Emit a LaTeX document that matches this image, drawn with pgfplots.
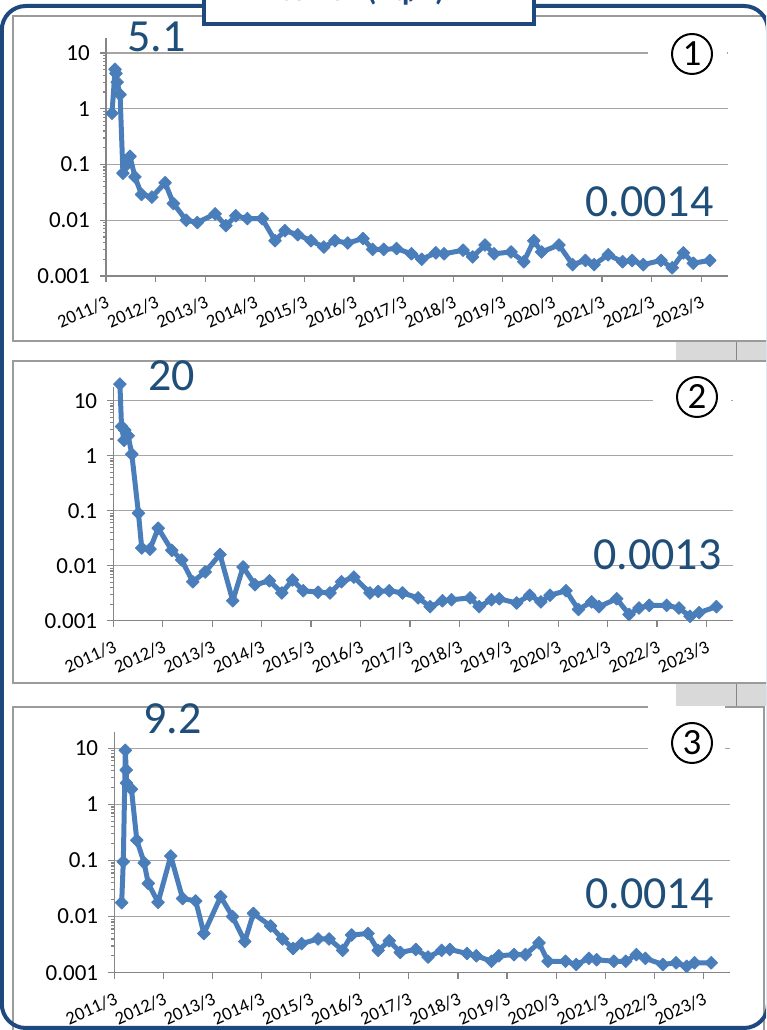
\documentclass[border=0pt]{standalone}
\usepackage{fontspec}
\setmainfont{Carlito}
\usepackage{pgfplots}
\pgfplotsset{compat=1.18}
\definecolor{frameblue}{RGB}{31,73,125}
\definecolor{lblblue}{RGB}{31,78,121}
\definecolor{lineblue}{RGB}{74,126,187}
\definecolor{gridgray}{RGB}{165,165,165}
\definecolor{axgray}{RGB}{134,134,134}
\definecolor{panelgray}{RGB}{155,155,155}
\definecolor{sheetgray}{RGB}{217,217,217}

\begin{document}
\begin{tikzpicture}
\path[use as bounding box] (0pt,0pt) rectangle (766pt,1030pt);
\clip (0pt,0pt) rectangle (766pt,1030pt);
\fill[white] (0pt,0pt) rectangle (766pt,1030pt);

% spreadsheet patches between panels
\fill[sheetgray] (676pt,688pt) rectangle (770pt,670pt);
\draw[axgray, line width=1pt] (736pt,688pt) -- (736pt,670pt);
\fill[sheetgray] (676pt,346pt) rectangle (770pt,324pt);
\draw[axgray, line width=1pt] (736pt,346pt) -- (736pt,324pt);

% panel borders
\draw[panelgray, line width=1.5pt] (13pt,1014pt) rectangle (772pt,689pt);
\draw[panelgray, line width=1.5pt] (13pt,669pt) rectangle (772pt,347pt);
\draw[panelgray, line width=1.5pt] (13pt,323pt) rectangle (764pt,-10pt);

% ---------- panel 1 ----------
\begin{semilogyaxis}[at={(106pt,754pt)}, anchor=south west, width=622pt, height=238pt, ymax=18.6,
    scale only axis, clip=false,
    xmin=0, xmax=150.5, ymin=0.001,
    axis x line*=bottom, axis y line*=left,
    axis line style={axgray, line width=1.2pt},
    xtick={0,12,24,36,48,60,72,84,96,108,120,132,144},
    xticklabels={2011/3,2012/3,2013/3,2014/3,2015/3,2016/3,2017/3,2018/3,2019/3,2020/3,2021/3,2022/3,2023/3},
    ytick={0.001,0.01,0.1,1,10},
    yticklabels={0.001,0.01,0.1,1,10},
    ymajorgrids, major grid style={gridgray, line width=1.2pt},
    tick align=outside, major tick length=6pt,
    tick style={axgray, line width=1.2pt},
    yticklabel style={font=\fontsize{23}{23}\selectfont, anchor=east, inner sep=0pt, xshift=-10pt},
    xticklabel style={font=\fontsize{18.5}{18.5}\selectfont, anchor=east, inner sep=0pt, yshift=-19pt, xshift=2pt, rotate=24}]
\addplot[lineblue, line width=5pt, line join=round, mark=square*, mark size=4.5pt, mark options={rotate=45, solid, fill=lineblue, draw=lineblue, line width=0.8pt}] coordinates {(1.45,0.83) (2.2,5.1) (2.4,4.3) (2.7,3.0) (3.4,1.8) (4.1,0.07) (5.0,0.10) (5.8,0.14) (7.0,0.06) (8.6,0.029) (11.1,0.026) (14.3,0.047) (16.3,0.020) (19.4,0.010) (22.1,0.0091) (26.4,0.013) (29.0,0.0080) (31.4,0.012) (34.2,0.0107) (37.8,0.0107) (40.9,0.0043) (43.3,0.0065) (46.4,0.0055) (49.6,0.0043) (52.7,0.0033) (55.4,0.0043) (58.5,0.0039) (62.2,0.0047) (64.5,0.0030) (67.2,0.0030) (70.3,0.0031) (73.9,0.0025) (76.4,0.0020) (79.8,0.0026) (81.8,0.0025) (86.4,0.0029) (88.7,0.0022) (91.7,0.0036) (93.9,0.0025) (98.0,0.0027) (101.1,0.0018) (103.5,0.0043) (105.4,0.0027) (109.6,0.0036) (112.9,0.0016) (116.0,0.0019) (118.1,0.0016) (121.5,0.0024) (125.0,0.0018) (127.3,0.0019) (130.0,0.0016) (134.3,0.0019) (137.0,0.0014) (139.7,0.0026) (142.1,0.0017) (146.1,0.0019)};
\end{semilogyaxis}

% ---------- panel 2 ----------
\begin{semilogyaxis}[at={(113.3pt,409.3pt)}, anchor=south west, width=620pt, height=233.7pt, ymax=17.7,
    scale only axis, clip=false,
    xmin=0, xmax=150.5, ymin=0.001,
    axis x line*=bottom, axis y line*=left,
    axis line style={axgray, line width=1.2pt},
    xtick={0,12,24,36,48,60,72,84,96,108,120,132,144},
    xticklabels={2011/3,2012/3,2013/3,2014/3,2015/3,2016/3,2017/3,2018/3,2019/3,2020/3,2021/3,2022/3,2023/3},
    ytick={0.001,0.01,0.1,1,10},
    yticklabels={0.001,0.01,0.1,1,10},
    ymajorgrids, major grid style={gridgray, line width=1.2pt},
    tick align=outside, major tick length=6pt,
    tick style={axgray, line width=1.2pt},
    yticklabel style={font=\fontsize{23}{23}\selectfont, anchor=east, inner sep=0pt, xshift=-10pt},
    xticklabel style={font=\fontsize{18.5}{18.5}\selectfont, anchor=east, inner sep=0pt, yshift=-19pt, xshift=2pt, rotate=24}]
\addplot[lineblue, line width=5pt, line join=round, mark=square*, mark size=4.5pt, mark options={rotate=45, solid, fill=lineblue, draw=lineblue, line width=0.8pt}] coordinates {(1.6,20) (2.0,3.4) (2.6,1.9) (2.8,2.9) (3.6,2.3) (4.5,1.06) (6.1,0.09) (6.9,0.021) (8.9,0.020) (10.9,0.048) (14.2,0.019) (16.6,0.0127) (19.3,0.0051) (22.3,0.0077) (25.9,0.016) (29.0,0.0023) (31.5,0.0095) (34.4,0.0045) (37.9,0.0053) (40.9,0.0032) (43.5,0.0055) (46.1,0.0035) (49.7,0.0033) (52.6,0.0032) (55.4,0.0051) (58.4,0.0062) (62.3,0.0032) (64.3,0.0034) (67.0,0.0035) (70.2,0.0032) (74.0,0.0026) (76.9,0.0018) (79.9,0.0023) (82.1,0.0024) (86.6,0.0026) (88.8,0.0018) (91.8,0.0024) (93.7,0.0025) (97.9,0.0021) (101.1,0.0029) (103.8,0.0022) (106.0,0.0029) (109.9,0.0035) (112.9,0.0016) (116.1,0.0022) (117.9,0.0018) (122.2,0.0025) (125.2,0.0013) (127.6,0.0017) (130.1,0.0019) (134.3,0.0019) (137.3,0.0017) (140.0,0.0012) (142.2,0.0014) (146.4,0.0018)};
\end{semilogyaxis}

% ---------- panel 3 ----------
\begin{semilogyaxis}[at={(114.3pt,57.3pt)}, anchor=south west, width=615.7pt, height=240.7pt, ymax=19.5,
    scale only axis, clip=false,
    xmin=0, xmax=150.5, ymin=0.001,
    axis x line*=bottom, axis y line*=left,
    axis line style={axgray, line width=1.2pt},
    xtick={0,12,24,36,48,60,72,84,96,108,120,132,144},
    xticklabels={2011/3,2012/3,2013/3,2014/3,2015/3,2016/3,2017/3,2018/3,2019/3,2020/3,2021/3,2022/3,2023/3},
    ytick={0.001,0.01,0.1,1,10},
    yticklabels={0.001,0.01,0.1,1,10},
    ymajorgrids, major grid style={gridgray, line width=1.2pt},
    tick align=outside, major tick length=6pt,
    tick style={axgray, line width=1.2pt},
    yticklabel style={font=\fontsize{23}{23}\selectfont, anchor=east, inner sep=0pt, xshift=-10pt},
    xticklabel style={font=\fontsize{18.5}{18.5}\selectfont, anchor=east, inner sep=0pt, yshift=-19pt, xshift=2pt, rotate=24}]
\addplot[lineblue, line width=5pt, line join=round, mark=square*, mark size=4.5pt, mark options={rotate=45, solid, fill=lineblue, draw=lineblue, line width=0.8pt}] coordinates {(1.8,0.0177) (2.2,0.095) (2.7,9.2) (2.9,4.1) (3.0,2.4) (4.2,1.86) (5.5,0.23) (7.3,0.091) (8.3,0.039) (10.7,0.018) (13.8,0.12) (16.7,0.021) (19.9,0.019) (21.9,0.0050) (26.0,0.0226) (28.9,0.010) (31.9,0.0036) (34.0,0.0114) (38.2,0.0068) (41.1,0.0040) (43.7,0.0027) (45.8,0.0033) (49.8,0.0040) (52.5,0.0040) (55.8,0.0025) (58.0,0.0047) (62.0,0.0050) (64.5,0.0025) (67.2,0.0037) (69.9,0.0023) (73.7,0.0026) (76.7,0.0019) (80.0,0.0025) (82.0,0.0026) (86.2,0.0022) (88.5,0.0020) (92.2,0.0016) (94.0,0.0020) (97.7,0.0021) (100.5,0.0021) (103.8,0.0034) (106.0,0.0016) (110.3,0.0016) (112.9,0.0014) (116.0,0.0018) (117.9,0.0017) (122.1,0.0016) (125.0,0.0016) (127.6,0.0021) (129.8,0.0018) (134.1,0.0014) (137.3,0.0015) (139.9,0.0013) (141.8,0.0015) (145.9,0.0015)};
\end{semilogyaxis}

% white boxes behind circled numbers
\fill[white] (648pt,1000pt) rectangle (727pt,950pt);
\fill[white] (653pt,662pt) rectangle (731pt,602pt);
\fill[white] (648pt,324pt) rectangle (725pt,255pt);
\draw[panelgray, line width=1.5pt] (725pt,323pt) -- (764pt,323pt);

% circled numbers
\node[circle, draw=black, line width=2pt, minimum size=40pt, inner sep=0pt, font=\fontsize{37}{37}\selectfont] at (692pt,976pt) {1};
\node[circle, draw=black, line width=2pt, minimum size=40pt, inner sep=0pt, font=\fontsize{37}{37}\selectfont] at (697pt,633pt) {2};
\node[circle, draw=black, line width=2pt, minimum size=40pt, inner sep=0pt, font=\fontsize{37}{37}\selectfont] at (692pt,287pt) {3};

% big value labels
\node[text=lblblue, inner sep=0pt, anchor=base west, font=\fontsize{46}{46}\selectfont] at (127pt,978pt) {5.1};
\node[text=lblblue, inner sep=0pt, anchor=base west, font=\fontsize{46}{46}\selectfont] at (585pt,813.3pt) {0.0014};
\node[text=lblblue, inner sep=0pt, anchor=base west, font=\fontsize{46}{46}\selectfont] at (148pt,639.3pt) {20};
\node[text=lblblue, inner sep=0pt, anchor=base west, font=\fontsize{46}{46}\selectfont] at (593pt,460pt) {0.0013};
\node[text=lblblue, inner sep=0pt, anchor=base west, font=\fontsize{46}{46}\selectfont] at (143pt,296pt) {9.2};
\node[text=lblblue, inner sep=0pt, anchor=base west, font=\fontsize{46}{46}\selectfont] at (585pt,121.7pt) {0.0014};

% outer frame and title box
\draw[frameblue, line width=4pt, rounded corners=24pt] (1.8pt,1024pt) rectangle (768pt,2pt);
\draw[frameblue, line width=4pt, fill=white] (204pt,1060pt) rectangle (534pt,1006pt);
\node[text=frameblue, anchor=base, inner sep=0pt, font=\bfseries\fontsize{30}{30}\selectfont] at (361pt,1029pt) {Cs-137 (Bq/L)};
\end{tikzpicture}
\end{document}
